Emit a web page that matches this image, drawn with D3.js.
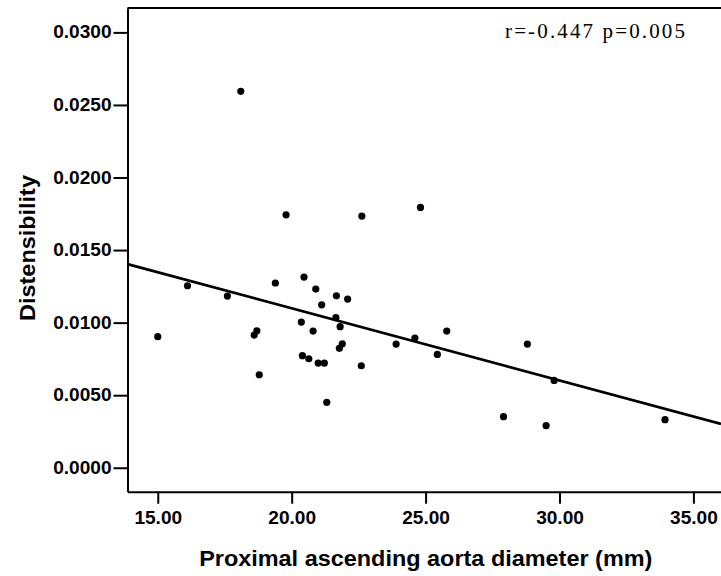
<!DOCTYPE html>
<html>
<head>
<meta charset="utf-8">
<script src="https://cdn.jsdelivr.net/npm/d3@7"></script>
<style>
  body { margin: 0; background: #fff; }
  svg { display: block; }
  .axis text { font-family: "Liberation Sans", Arial, sans-serif; font-weight: bold; font-size: 17.5px; fill: #000; }
  .axis path, .axis line { stroke: #000; stroke-width: 2; }
</style>
</head>
<body>
<div id="chart"></div>
<script>
// Proximal ascending aorta diameter (mm)
const diameter = [
  15.00, 16.11, 17.60, 19.39, 20.46, 20.90, 21.67, 22.09, 21.12, 21.65,
  21.81, 20.36, 20.80, 18.70, 18.60, 21.89, 21.78, 20.40, 20.64, 20.99,
  21.22, 22.60, 18.79, 21.31, 24.81, 23.90, 24.60, 25.79, 25.44, 28.80,
  29.80, 27.91, 29.50, 33.94, 18.10, 19.79, 22.62
];
// Distensibility, same order
const distensibility = [
  0.00903, 0.01254, 0.01183, 0.01273, 0.01314, 0.01231, 0.01185, 0.01162, 0.01123, 0.01034,
  0.00972, 0.01004, 0.00942, 0.00944, 0.00914, 0.00854, 0.00823, 0.00772, 0.00751, 0.00721,
  0.00721, 0.00703, 0.00641, 0.00451, 0.01794, 0.00852, 0.00894, 0.00942, 0.00781, 0.00852,
  0.00602, 0.00352, 0.00290, 0.00331, 0.02594, 0.01743, 0.01734
];
const xTicks = [15, 20, 25, 30, 35];
const yTicks = [0, 0.005, 0.010, 0.015, 0.020, 0.025, 0.030];
const statsLabel = "r=-0.447 p=0.005";

const W = 721, H = 576;
const margin = { top: 8, right: 0, bottom: 84.3, left: 127.5 };
const width = W - margin.left - margin.right,
  height = H - margin.top - margin.bottom;

const x = d3.scaleLinear().domain([13.87, 36.03]).range([0, width]);
const y = d3.scaleLinear().domain([-0.00165, 0.03168]).range([height, 0]);

const svg = d3.select("#chart").append("svg")
  .attr("width", W)
  .attr("height", H);

const g = svg.append("g")
  .attr("transform", `translate(${margin.left},${margin.top})`);

// least squares fit line
const pts = diameter.map((d, i) => ({ x: d, y: distensibility[i] }));
const mx = d3.mean(pts, d => d.x), my = d3.mean(pts, d => d.y);
const slope = d3.sum(pts, d => (d.x - mx) * (d.y - my)) / d3.sum(pts, d => (d.x - mx) ** 2);
const fit = v => my + slope * (v - mx);

g.append("defs").append("clipPath").attr("id", "plot-clip")
  .append("rect").attr("width", width).attr("height", height);

// top border of the frame
g.append("line")
  .attr("x1", 0).attr("x2", width)
  .attr("y1", 0).attr("y2", 0)
  .attr("stroke", "#000").attr("stroke-width", 2);

// axes
g.append("g")
  .attr("class", "axis")
  .attr("transform", `translate(0,${height})`)
  .call(d3.axisBottom(x).tickValues(xTicks).tickFormat(d3.format(".2f"))
    .tickSize(12).tickSizeOuter(0).tickPadding(8));

g.append("g")
  .attr("class", "axis")
  .call(d3.axisLeft(y).tickValues(yTicks).tickFormat(d3.format(".4f"))
    .tickSize(14).tickSizeOuter(0).tickPadding(2));

// fit line
const xd = x.domain();
g.append("line")
  .attr("clip-path", "url(#plot-clip)")
  .attr("x1", x(xd[0])).attr("y1", y(fit(xd[0])))
  .attr("x2", x(xd[1])).attr("y2", y(fit(xd[1])))
  .attr("stroke", "#000")
  .attr("stroke-width", 2.7);

// points
g.append("g")
  .selectAll("circle")
  .data(pts)
  .join("circle")
  .attr("cx", d => x(d.x))
  .attr("cy", d => y(d.y))
  .attr("r", 3.6)
  .attr("fill", "#000");

// r / p annotation
g.append("text")
  .attr("x", 377.5)
  .attr("y", 29.5)
  .attr("textLength", 180)
  .attr("lengthAdjust", "spacing")
  .style("font-family", "'Liberation Serif', 'DejaVu Serif', serif")
  .style("font-size", "21px")
  .text(statsLabel);

// axis titles
g.append("text")
  .attr("class", "title")
  .attr("x", width / 2 + 1.5)
  .attr("y", height + 74.3)
  .attr("text-anchor", "middle")
  .text("Proximal ascending aorta diameter (mm)");

g.append("text")
  .attr("class", "title")
  .attr("transform", "rotate(-90)")
  .attr("x", -(248 - margin.top))
  .attr("y", 34.5 - margin.left)
  .attr("text-anchor", "middle")
  .text("Distensibility");

svg.selectAll("text.title")
  .style("font-family", "'Liberation Sans', Arial, sans-serif")
  .style("font-weight", "bold")
  .style("font-size", "21.5px");

// the source font is a little wider than Arial: stretch bold texts horizontally
svg.selectAll(".axis text, text.title").each(function() {
  const w = this.getComputedTextLength();
  this.setAttribute("textLength", w * 1.09);
  this.setAttribute("lengthAdjust", "spacingAndGlyphs");
});
</script>
</body>
</html>
